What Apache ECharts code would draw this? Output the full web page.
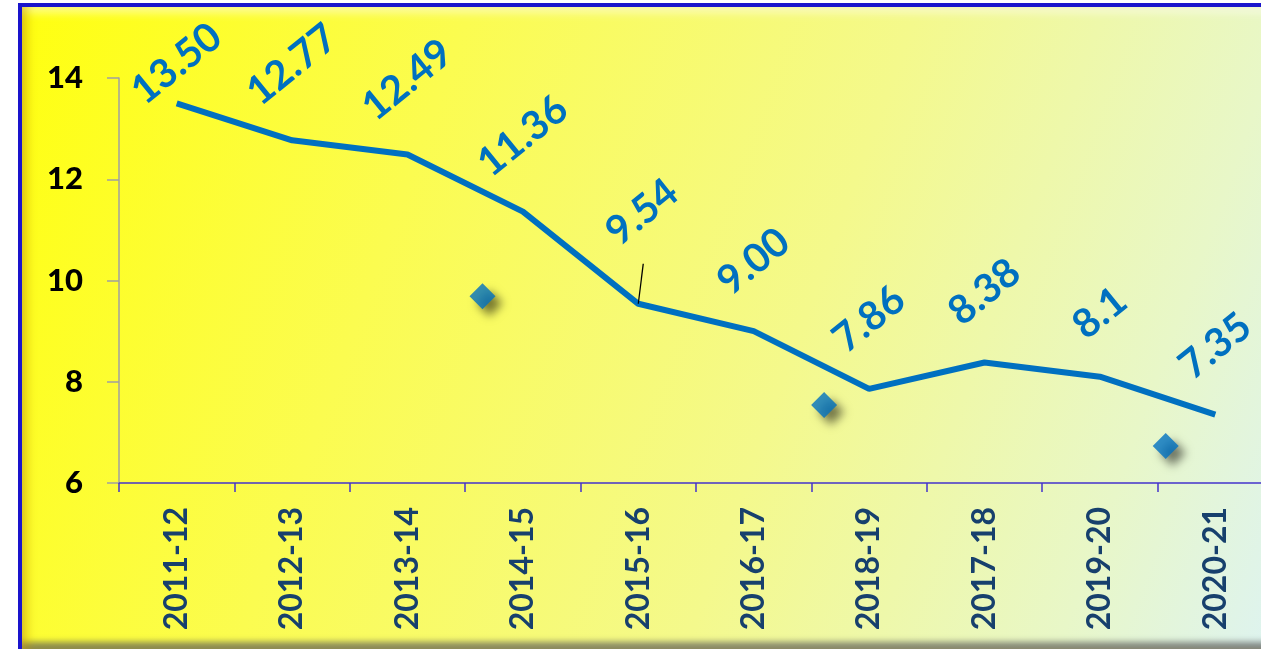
<!DOCTYPE html>
<html>
<head>
<meta charset="utf-8">
<script src="https://cdn.jsdelivr.net/npm/echarts@6/dist/echarts.min.js"></script>
<style>
html,body{margin:0;padding:0;width:1261px;height:649px;overflow:hidden;background:#fff;}
#frame{position:absolute;left:18px;top:3px;width:1260px;height:642px;border:4px solid #1A14CC;border-right:none;
 background:linear-gradient(110deg,#FFFF10 0%,#FBFC50 30%,#F4F98C 60%,#E8F7C8 85%,#DDF3F2 100%);
 box-shadow: inset 10px 0 8px -4px rgba(200,150,0,0.45), inset 0 10px 8px -4px rgba(255,255,255,0.5), inset 0 -10px 6px -3px rgba(90,90,90,0.7);}
#chart{position:absolute;left:0;top:0;width:1261px;height:649px;}
</style>
</head>
<body>
<div id="frame"></div>
<div id="chart"></div>
<script>
const categories = ["2011-12","2012-13","2013-14","2014-15","2015-16","2016-17","2018-19","2017-18","2019-20","2020-21"];
const lineValues = [13.50,12.77,12.49,11.36,9.54,9.00,7.86,8.38,8.1,7.35];
const lineLabels = ["13.50","12.77","12.49","11.36","9.54","9.00","7.86","8.38","8.1","7.35"];
const diamondX = [2.65,5.61,8.57];
const diamondY = [9.69,7.54,6.73];
const yTicks = [6,8,10,12,14];

// label placement (styling, not data)
const labelDist = {0:39, 1:75, 2:74, 3:75, 4:88, 5:69, 6:69, 7:70, 8:63, 9:68};
const labelShift = {4:[5,0]};
const chart = echarts.init(document.getElementById('chart'), null, {renderer:'canvas'});
const lineData = lineValues.map((v,i)=>({
  value:v,
  label:{distance:labelDist[i], offset:(labelShift[i]||[0,0])}
}));
chart.setOption({
  backgroundColor:'transparent',
  animation:false,
  grid:{left:119, top:78, height:405, width:1154, containLabel:false, outerBoundsMode:'none'},
  xAxis:[{
    type:'category', data:categories, boundaryGap:true,
    axisLine:{lineStyle:{color:'#4433CC', width:1.5}},
    axisTick:{show:true, length:9, alignWithLabel:false, lineStyle:{color:'#4433CC', width:1.5}},
    axisLabel:{rotate:90, margin:24, color:'#17406D', fontFamily:'Lato', fontWeight:'bold', fontSize:32, interval:0},
    splitLine:{show:false}
  },{
    type:'value', min:-0.5, max:9.5, show:false
  }],
  yAxis:{
    type:'value', min:yTicks[0], max:yTicks[yTicks.length-1], interval:2,
    axisLine:{show:true, onZero:false, lineStyle:{color:'#A0A0A0', width:1.5}},
    axisTick:{show:true, length:12, lineStyle:{color:'#A0A0A0', width:1.5}},
    axisLabel:{margin:36, color:'#000', fontFamily:'Lato', fontWeight:900, fontSize:31},
    splitLine:{show:false}
  },
  series:[{
    type:'line', data:lineData, xAxisIndex:0,
    symbol:'circle', symbolSize:1, showSymbol:true,
    itemStyle:{color:'rgba(0,0,0,0)'},
    lineStyle:{color:'#0070C0', width:6},
    label:{show:true, position:'top', rotate:39, align:'center', verticalAlign:'middle',
      color:'#0070C0', fontFamily:'Lato', fontWeight:'bold', fontSize:40,
      formatter:p=>lineLabels[p.dataIndex]}
  },{
    type:'scatter', xAxisIndex:1,
    data:diamondX.map((x,i)=>[x,diamondY[i]]),
    symbol:'diamond', symbolSize:[26,26],
    itemStyle:{color:'#0070C0', shadowColor:'rgba(0,0,0,0.65)', shadowBlur:10, shadowOffsetX:7, shadowOffsetY:7},
    markLine:{silent:true, symbol:'none', label:{show:false},
      lineStyle:{color:'#000', width:1.3, type:'solid'},
      data:[[{coord:[4,lineValues[4]]},{coord:[4.043,10.33]}]]}
  }]
});
</script>
</body>
</html>
